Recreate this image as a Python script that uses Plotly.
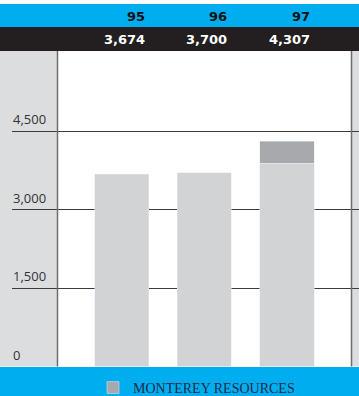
import plotly.graph_objects as go

# ---- data ----
years = ["95", "96", "97"]
base_vals = [3674, 3700, 3880]
monterey_vals = [None, None, 427]
total_labels = [3674, 3700, 4307]
y_ticks = [0, 1500, 3000, 4500]
y_tick_labels = ["0", "1,500", "3,000", "4,500"]
legend_name = "MONTEREY RESOURCES"

W, H = 359, 396


def px(x):
    return x / W


def py(y):
    return 1 - y / H


BAR_W = 0.655
BLUE = "#00aeef"
BLACK = "#231f20"
PANEL = "#dcdddf"

fig = go.Figure()
fig.add_bar(x=years, y=base_vals, marker_color="#d1d3d4", width=BAR_W,
            showlegend=False, hoverinfo="skip")
fig.add_bar(x=years, y=monterey_vals, marker_color="#a7a9ac", width=BAR_W,
            name=legend_name, hoverinfo="skip")

shapes = [
    dict(type="rect", xref="paper", yref="paper", x0=0, x1=px(57.5),
         y0=py(366.5), y1=py(51), fillcolor=PANEL, line_width=0, layer="below"),
    dict(type="rect", xref="paper", yref="paper", x0=px(351), x1=1,
         y0=py(366.5), y1=py(51), fillcolor=PANEL, line_width=0, layer="below"),
    dict(type="rect", xref="paper", yref="paper", x0=0, x1=1,
         y0=py(27), y1=py(4), fillcolor=BLUE, line_width=0, layer="below"),
    dict(type="rect", xref="paper", yref="paper", x0=0, x1=1,
         y0=py(51), y1=py(27), fillcolor=BLACK, line_width=0, layer="below"),
    dict(type="rect", xref="paper", yref="paper", x0=0, x1=1,
         y0=0, y1=py(367), fillcolor=BLUE, line_width=0, layer="above"),
    dict(type="line", xref="paper", yref="paper", x0=px(57.5), x1=px(57.5),
         y0=py(366.5), y1=py(51), line=dict(color="#6d6e71", width=1.5), layer="above"),
    dict(type="line", xref="paper", yref="paper", x0=px(351.5), x1=px(351.5),
         y0=py(366.5), y1=py(51), line=dict(color="#6d6e71", width=1.5), layer="above"),
]

annotations = []
for v, lab in zip(y_ticks, y_tick_labels):
    annotations.append(dict(
        x=px(11), xref="paper", y=v, yref="y", xanchor="left", yanchor="bottom",
        yshift=1, text=lab, showarrow=False,
        font=dict(family="Open Sans", size=13, color="#333335")))

for i, (yr, tot) in enumerate(zip(years, total_labels)):
    annotations.append(dict(
        x=i + BAR_W / 2, xref="x", y=py(16), yref="paper", xanchor="right",
        yanchor="middle", xshift=-2, text=yr, showarrow=False,
        font=dict(family="DejaVu Sans", size=13, color="#111111", weight="bold")))
    annotations.append(dict(
        x=i + BAR_W / 2, xref="x", y=py(40), yref="paper", xanchor="right",
        yanchor="middle", xshift=-2, text=f"{tot:,}", showarrow=False,
        font=dict(family="DejaVu Sans", size=13, color="#ffffff", weight="bold")))

fig.update_layout(
    width=W, height=H, autosize=False,
    margin=dict(l=0, r=0, t=0, b=0, pad=0, autoexpand=False),
    paper_bgcolor="#ffffff",
    plot_bgcolor="rgba(0,0,0,0)",
    barmode="stack",
    shapes=shapes,
    annotations=annotations,
    xaxis=dict(domain=[px(12), 1], range=[-1.333, 2.873], showgrid=False,
               showticklabels=False, zeroline=False, showline=False, ticks=""),
    yaxis=dict(domain=[py(366.5), py(51)], range=[0, 6030], tickvals=y_ticks,
               showticklabels=False, showgrid=True, gridcolor="#3c3c3e",
               gridwidth=1, zeroline=False, showline=False, ticks=""),
    legend=dict(orientation="h", x=px(93), xanchor="left", y=py(388),
                yanchor="middle", bgcolor="rgba(0,0,0,0)", itemwidth=30,
                font=dict(family="Liberation Serif", size=14, color="#1c2b4a")),
    showlegend=True,
)

fig.write_html(
    "out.html",
    config={"displayModeBar": False, "responsive": False},
    post_script="document.body.style.margin='0';document.body.style.overflow='hidden';",
)
